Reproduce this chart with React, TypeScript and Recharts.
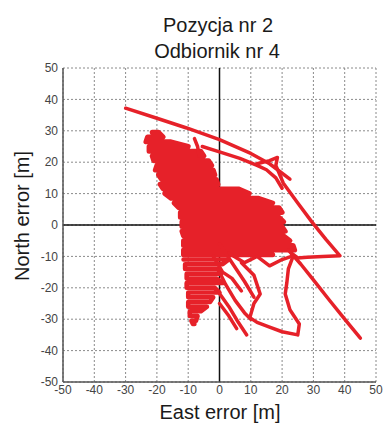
import React from 'react';
import { ScatterChart, Scatter, XAxis, YAxis, CartesianGrid, ReferenceLine } from 'recharts';

// osie: -50..50 m w obu kierunkach
const axisTicks = [-50, -40, -30, -20, -10, 0, 10, 20, 30, 40, 50];

const topLine = [[-30, 37.2], [-20, 34], [-10.5, 30.9], [0, 27.2], [10, 22.8], [16, 19.5], [22.5, 14.6]];
const secondLine = [[-5.5, 25], [0, 23.3], [6.5, 21.2], [12, 19], [15, 17.6], [18, 15], [20, 11.7]];
const steepLine = [[12, 19.5], [16, 20.5], [18.5, 21.5], [18, 19], [20.4, 13.3], [25, 7], [29.5, 1], [34, -4.6], [38.5, -9.8], [33, -10], [28, -10.3], [25, -10.5], [23, -9]];
const longLine = [[22, -8], [26, -12.5], [30, -17.5], [35, -23.8], [40, -30], [45, -36]];
const loopLine = [[23.5, -10], [22, -14], [21.5, -18.5], [21, -22], [22.5, -27], [25.5, -31.5], [25, -35], [20, -34], [16, -32.5], [12, -31], [9.7, -29.5], [11, -25], [13, -22], [11, -16], [7, -12]];
const fingerLine = [[-8, 27.5], [-7, 25], [-6.5, 22]];
const strandA = [[-0.5, -14], [2, -19], [5, -24], [8, -28], [10, -30]];
const strandB = [[0, -21.8], [3, -26], [6, -31], [8.7, -35]];
const strandC = [[0, -25], [3, -29], [5.5, -33]];
const strandD = [[0, -6], [4, -12], [8, -18], [11, -23]];
const strandE = [[3, -9], [8, -12], [12, -10], [16, -13], [20, -11], [23, -10]];
const strandF = [[-2, -10], [1, -15], [4, -17], [7, -21]];

// gęsta chmura: wiersze [north, east od, east do]
const upperBlob = [
  [29.5, -21.5, -19.5], [28, -23, -18], [26.5, -23.5, -15.5], [25, -22.5, -10],
  [23.5, -22.5, -6], [22, -21.5, -5], [20.5, -21, -3.5], [19, -20, -2.5],
  [17.5, -20.5, -2], [16, -19.5, -1.5], [14.5, -18.5, -1], [13, -19, -0.5],
  [11.5, -18, 6], [10, -17.5, 9.5], [8.5, -15.5, 12.5], [7, -14.5, 17],
  [5.5, -13, 19], [4, -12.5, 20], [2.5, -12.5, 19], [1, -12, 20.5],
  [-0.5, -12, 20], [-2, -12, 21], [-3.5, -11.5, 20.5], [-5, -11.5, 22.5],
  [-6.5, -11.5, 23.5], [-8, -11.5, 24], [-9.5, -11.5, 17],
];
const lowerBlob = [
  [-11, -11.5, 3], [-12.5, -11, 1], [-14, -11, -0.5], [-15.5, -10.5, 0.5],
  [-17, -10.5, -1], [-18.5, -10.5, 1], [-20, -10.5, -1.5], [-21.5, -10, 0],
  [-23, -10, -2], [-24.5, -10, -3], [-26, -10, -4], [-27.5, -9.5, -6],
  [-29, -9.5, -7], [-30.5, -9, -7.5], [-31.5, -8.5, -8],
];

const RED = '#e62129';

const toPts = (a: number[][]) => a.map(([x, y]) => ({ x, y }));
// wiersze rysowane tam i z powrotem
const rowsToPts = (rows: number[][]) =>
  rows.flatMap(([y, l, r], i) =>
    i % 2 === 0 ? [{ x: l, y }, { x: r, y }] : [{ x: r, y }, { x: l, y }]
  );

const traces = [topLine, secondLine, steepLine, longLine, loopLine, fingerLine, strandA, strandB, strandC, strandD, strandE, strandF];

const noDot = () => <g />;

export default function App() {
  const textStyle: React.CSSProperties = {
    position: 'absolute',
    fontFamily: '"Liberation Sans", Arial, sans-serif',
    fontSize: 20,
    lineHeight: '24px',
    color: '#1a1a1a',
    textAlign: 'center',
    whiteSpace: 'nowrap',
  };

  return (
    <div style={{ position: 'absolute', left: 0, top: 0, width: 384, height: 424, background: '#fff' }}>
      <ScatterChart width={384} height={424} margin={{ top: 68, right: 8, bottom: 0, left: 0 }}>
        <CartesianGrid stroke="#8a8a8a" strokeDasharray="2 2" />
        <XAxis
          type="number"
          dataKey="x"
          domain={[-50, 50]}
          ticks={axisTicks}
          interval={0}
          height={42}
          tickLine={false}
          tickSize={0}
          tickMargin={3}
          axisLine={{ stroke: '#555', strokeWidth: 1.5 }}
          tick={{ fontSize: 12, fill: '#444', fontFamily: '"Liberation Sans", Arial, sans-serif' }}
          allowDataOverflow
        />
        <YAxis
          type="number"
          dataKey="y"
          domain={[-50, 50]}
          ticks={axisTicks}
          interval={0}
          width={63}
          tickLine={false}
          tickSize={0}
          tickMargin={5}
          axisLine={{ stroke: '#555', strokeWidth: 1.5 }}
          tick={{ fontSize: 12, fill: '#444', fontFamily: '"Liberation Sans", Arial, sans-serif' }}
          allowDataOverflow
        />
        <Scatter
          data={rowsToPts(upperBlob)}
          line={{ stroke: RED, strokeWidth: 5, strokeLinejoin: 'round', strokeLinecap: 'round' }}
          shape={noDot}
          isAnimationActive={false}
        />
        <Scatter
          data={rowsToPts(lowerBlob)}
          line={{ stroke: RED, strokeWidth: 4.5, strokeLinejoin: 'round', strokeLinecap: 'round' }}
          shape={noDot}
          isAnimationActive={false}
        />
        {traces.map((t, i) => (
          <Scatter
            key={i}
            data={toPts(t)}
            line={{ stroke: RED, strokeWidth: 3.5, strokeLinejoin: 'round', strokeLinecap: 'round' }}
            shape={noDot}
            isAnimationActive={false}
          />
        ))}
        <ReferenceLine x={0} stroke="#111" strokeWidth={1.5} />
        <ReferenceLine y={0} stroke="#111" strokeWidth={1.5} />
      </ScatterChart>
      <div style={{ ...textStyle, left: 118, top: 13, width: 200 }}>Pozycja nr 2</div>
      <div style={{ ...textStyle, left: 117, top: 39, width: 200 }}>Odbiornik nr 4</div>
      <div style={{ ...textStyle, left: 120, top: 400, width: 200 }}>East error [m]</div>
      <div style={{ ...textStyle, left: -78, top: 204, width: 200, transform: 'rotate(-90deg)' }}>North error [m]</div>
    </div>
  );
}
